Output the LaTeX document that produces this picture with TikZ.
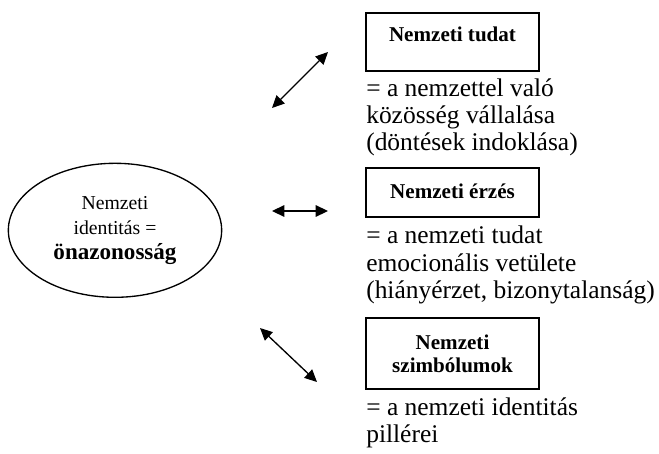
\documentclass[tikz,border=0pt]{standalone}
\usepackage{fontspec}
\setmainfont{Liberation Serif}
\usetikzlibrary{arrows.meta,shapes.geometric}
\begin{document}
\begin{tikzpicture}[x=0.75pt,y=-0.75pt,
  boxnode/.style={draw,line width=1pt,minimum width=129.75pt,inner xsep=0pt,inner ysep=0pt,
    font=\fontsize{15.8}{17.25}\selectfont\bfseries,align=center},
  desc/.style={anchor=base west,inner sep=0pt,font=\fontsize{19.1}{20.25}\selectfont},
  dbl/.style={{Triangle[length=9.2pt,width=8.6pt]}-{Triangle[length=9.2pt,width=8.6pt]},line width=1pt}]
\useasboundingbox (0,0) rectangle (659,453);

% central ellipse
\node[ellipse,draw,line width=1pt,minimum width=160pt,minimum height=100.5pt,inner sep=0pt,
  align=center,font=\fontsize{14.8}{18.75}\selectfont] (id) at (115,230.3)
  {Nemzeti\\identitás =\\{\fontsize{17.3}{18.75}\selectfont\bfseries önazonosság}};

% boxes
\node[boxnode,text height=21.5pt,text depth=22pt] (tudat) at (452.5,42) {Nemzeti tudat};
\node[boxnode,text height=22.5pt,text depth=14.25pt] (erzes) at (452.5,192.5) {Nemzeti érzés};
\node[boxnode,minimum height=53.25pt] (szimb) at (452.5,353.5) {Nemzeti\\szimbólumok};

% descriptions
\node[desc] (d1a) at (366,96) {= a nemzettel való};
\node[desc] (d1b) at (366,123) {közösség vállalása};
\node[desc] (d1c) at (366,150) {(döntések indoklása)};
\node[desc] (d2a) at (366,243) {= a nemzeti tudat};
\node[desc] (d2b) at (366,271) {emocionális vetülete};
\node[desc] (d2c) at (366,298) {(hiányérzet, bizonytalanság)};
\node[desc] (d3a) at (366,415) {= a nemzeti identitás};
\node[desc] (d3b) at (366,442) {pillérei};

% arrows
\coordinate (a1s) at (272,108);
\coordinate (a1e) at (328,52);
\coordinate (a2s) at (272,211);
\coordinate (a2e) at (328,211);
\coordinate (a3s) at (260,328);
\coordinate (a3e) at (317,382);
\draw[dbl] (a1s) -- (a1e);
\draw[dbl] (a2s) -- (a2e);
\draw[dbl] (a3s) -- (a3e);
\end{tikzpicture}
\end{document}
